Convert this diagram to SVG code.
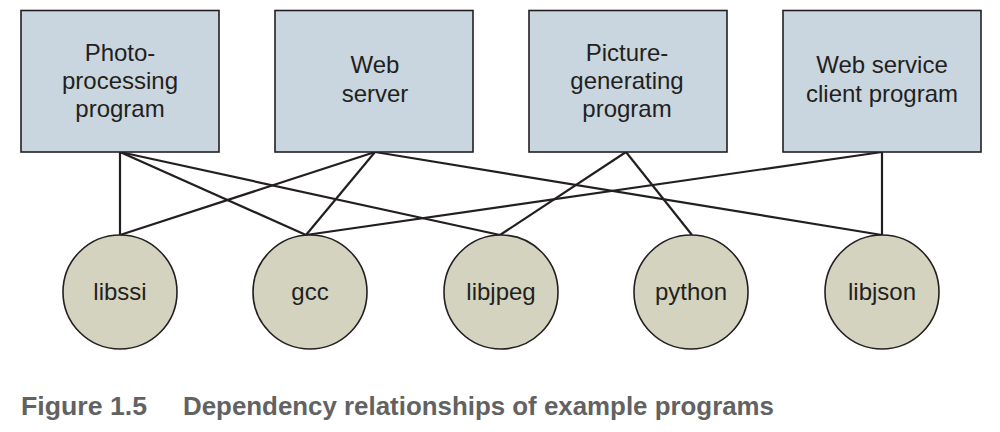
<svg xmlns="http://www.w3.org/2000/svg" width="1000" height="432" viewBox="0 0 1000 432">
<style>
.box{fill:#c9d6df;stroke:#231f20;stroke-width:1.6}
.lib{fill:#d4d3bf;stroke:#231f20;stroke-width:1.6}
.t{font-family:"Liberation Sans",Arial,sans-serif;font-size:24px;fill:#231f20;text-anchor:middle}
.cap{font-family:"Liberation Sans",Arial,sans-serif;font-size:26px;font-weight:bold;fill:#626262}
#connectors line{stroke:#231f20;stroke-width:2.2}
</style>
<rect width="1000" height="432" fill="#ffffff"/>
<g id="connectors">
<line x1="120" y1="152" x2="120" y2="235"/>
<line x1="120" y1="152" x2="306" y2="235"/>
<line x1="120" y1="152" x2="500" y2="235"/>
<line x1="375" y1="152" x2="120" y2="235"/>
<line x1="375" y1="152" x2="306" y2="235"/>
<line x1="375" y1="152" x2="882" y2="235"/>
<line x1="626" y1="152" x2="500" y2="235"/>
<line x1="626" y1="152" x2="692" y2="235"/>
<line x1="882" y1="152" x2="306" y2="235"/>
<line x1="882" y1="152" x2="882" y2="235"/>
</g>
<g id="photo">
<rect class="box" x="21" y="10.5" width="198" height="141.5"/>
<text class="t" x="120" y="61">Photo-</text>
<text class="t" x="120" y="89">processing</text>
<text class="t" x="120" y="117">program</text>
</g>
<g id="webserver">
<rect class="box" x="275" y="10.5" width="198" height="141.5"/>
<text class="t" x="375" y="73">Web</text>
<text class="t" x="375" y="102">server</text>
</g>
<g id="picture">
<rect class="box" x="529" y="10.5" width="198" height="141.5"/>
<text class="t" x="627" y="61">Picture-</text>
<text class="t" x="627" y="89">generating</text>
<text class="t" x="627" y="117">program</text>
</g>
<g id="webclient">
<rect class="box" x="783" y="10.5" width="198" height="141.5"/>
<text class="t" x="882" y="73">Web service</text>
<text class="t" x="882" y="102">client program</text>
</g>
<g id="libssi">
<ellipse class="lib" cx="120" cy="292" rx="57" ry="57"/>
<text class="t" x="120" y="300">libssi</text>
</g>
<g id="gcc">
<ellipse class="lib" cx="310" cy="292" rx="57" ry="57"/>
<text class="t" x="310" y="300">gcc</text>
</g>
<g id="libjpeg">
<ellipse class="lib" cx="501" cy="292" rx="57" ry="57"/>
<text class="t" x="501" y="300">libjpeg</text>
</g>
<g id="python">
<ellipse class="lib" cx="691" cy="292" rx="57" ry="57"/>
<text class="t" x="691" y="300">python</text>
</g>
<g id="libjson">
<ellipse class="lib" cx="882" cy="292" rx="57" ry="57"/>
<text class="t" x="882" y="300">libjson</text>
</g>
<g id="caption">
<text class="cap" x="21" y="415" textLength="126" lengthAdjust="spacingAndGlyphs">Figure 1.5</text>
<text class="cap" x="183" y="415" textLength="591" lengthAdjust="spacingAndGlyphs">Dependency relationships of example programs</text>
</g>
</svg>
